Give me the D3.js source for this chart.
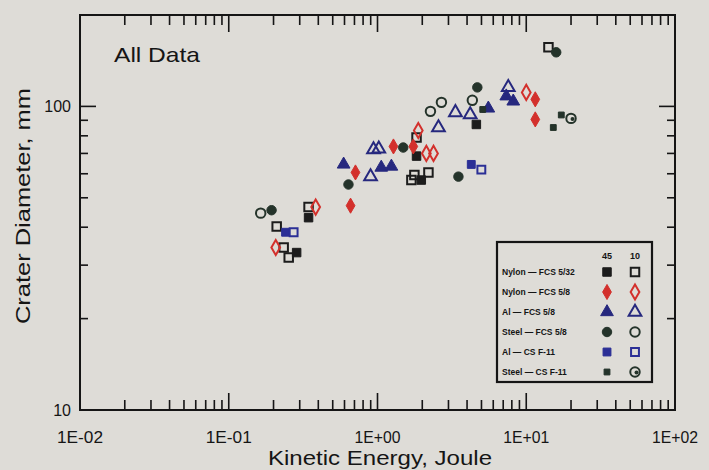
<!DOCTYPE html>
<html>
<head>
<meta charset="utf-8">
<script src="https://cdn.jsdelivr.net/npm/d3@7"></script>
<style>
  html, body { margin: 0; padding: 0; background: #dedcd7; }
  svg { display: block; }
</style>
</head>
<body>
<div id="chart"></div>
<script>
// Kinetic energy (J) vs crater diameter (mm)
const nylonFcsFilled = [[0.344, 43.0], [0.286, 33.0], [1.83, 68.6], [1.97, 57.2], [4.62, 87.2]];
const nylonFcsOpen = [[0.210, 40.2], [0.253, 31.8], [0.234, 34.3], [0.344, 46.6], [1.69, 57.2], [1.77, 59.4], [2.2, 60.6], [1.83, 79.0], [14.1, 156.6]];
const nylonRedFilled = [[0.711, 60.6], [0.659, 47.1], [1.28, 73.8], [1.74, 73.8], [11.5, 105.5], [11.5, 90.6]];
const nylonRedOpen = [[0.207, 34.3], [0.384, 46.6], [1.88, 83.3], [2.13, 70.0], [2.38, 70.0], [10.0, 111.2]];
const alFcsFilled = [[0.592, 64.4], [1.06, 62.9], [1.24, 63.4], [5.56, 98.5], [8.18, 103.9], [7.34, 108.0]];
const alFcsOpen = [[0.94, 72.1], [1.02, 72.5], [0.898, 58.7], [2.57, 85.2], [3.34, 95.5], [4.2, 94.0], [7.57, 115.5]];
const steelFcsFilled = [[0.194, 45.5], [0.638, 55.3], [1.49, 73.2], [4.69, 115.5], [15.9, 150.7], [3.5, 58.7]];
const steelFcsOpen = [[0.164, 44.5], [2.27, 96.3], [2.69, 103.1], [4.34, 104.7]];
const alCsFilled = [[0.241, 38.5], [4.27, 64.4]];
const alCsOpen = [[0.273, 38.5], [4.99, 61.9]];
const steelCsFilled = [[17.2, 93.7], [15.2, 85.2], [5.1, 97.7]];
const steelCsOpen = [[20.0, 91.3]];

const legendLabels = ["Nylon \u2014 FCS 5/32", "Nylon \u2014 FCS 5/8", "Al \u2014 FCS 5/8", "Steel \u2014 FCS 5/8", "Al \u2014 CS F-11", "Steel \u2014 CS F-11"];
const legendHeads = ["45", "10"];

const xMajor = [0.01, 0.1, 1, 10, 100];
const xTickLabels = ["1E-02", "1E-01", "1E+00", "1E+01", "1E+02"];
const yMajor = [10, 100];
const yTickLabels = ["10", "100"];

const chartW = 709, chartH = 470;
const plotLeft = 80, plotRight = 675, plotTop = 15, plotBottom = 410;
const ink = "#151515", paper = "#dedcd7";

const svg = d3.select("#chart").append("svg")
  .attr("width", chartW)
  .attr("height", chartH)
  .style("font-family", "'Liberation Sans', Arial, sans-serif");

svg.append("rect").attr("width", chartW).attr("height", chartH).attr("fill", paper);

const xScale = d3.scaleLog().domain([0.01, 100]).range([plotLeft, plotRight]);
const yScale = d3.scaleLog().domain([10, 200]).range([plotBottom, plotTop]);

// minor ticks: 2..9 in each decade
const xMinor = [];
[0.01, 0.1, 1, 10].forEach(d => { for (let k = 2; k <= 9; k++) xMinor.push(d * k); });
const yMinor = [20, 30, 40, 50, 60, 70, 80, 90];

svg.append("rect")
  .attr("x", plotLeft).attr("y", plotTop)
  .attr("width", plotRight - plotLeft).attr("height", plotBottom - plotTop)
  .attr("fill", "none").attr("stroke", ink).attr("stroke-width", 2);

svg.append("g").selectAll("text").data(xMajor).join("text")
  .attr("x", d => xScale(d)).attr("y", 443)
  .attr("text-anchor", "middle").attr("fill", ink)
  .attr("textLength", 46).attr("lengthAdjust", "spacingAndGlyphs")
  .style("font-size", "16px")
  .text((d, i) => xTickLabels[i]);
svg.append("g").selectAll("text").data(yMajor).join("text")
  .attr("x", 71).attr("y", d => yScale(d)).attr("dy", "0.35em")
  .attr("text-anchor", "end").attr("fill", ink)
  .style("font-size", "16px")
  .text((d, i) => yTickLabels[i]);

svg.append("text").attr("x", 114).attr("y", 62)
  .attr("fill", ink).style("font-size", "21px")
  .attr("textLength", 86).attr("lengthAdjust", "spacingAndGlyphs")
  .text("All Data");

svg.append("text")
  .attr("transform", `translate(30,206) rotate(-90)`)
  .attr("text-anchor", "middle").attr("fill", ink).style("font-size", "21px")
  .attr("textLength", 236).attr("lengthAdjust", "spacingAndGlyphs")
  .text("Crater Diameter, mm");
svg.append("text").attr("x", 380).attr("y", 465)
  .attr("text-anchor", "middle").attr("fill", ink).style("font-size", "21px")
  .attr("textLength", 224).attr("lengthAdjust", "spacingAndGlyphs")
  .text("Kinetic Energy, Joule");

const black = "#1c1c1c", red = "#d3302c", blue = "#26287e", green = "#24332a", blueCs = "#2b2f96";

const series = [
  { data: nylonFcsFilled, type: d3.symbolSquare, size: 72, color: black, fill: true },
  { data: nylonFcsOpen, type: d3.symbolSquare, size: 72, color: black, fill: false },
  { data: nylonRedFilled, type: d3.symbolDiamond, size: 66, color: red, fill: true },
  { data: nylonRedOpen, type: d3.symbolDiamond, size: 66, color: red, fill: false },
  { data: alFcsFilled, type: d3.symbolTriangle, size: 70, color: blue, fill: true },
  { data: alFcsOpen, type: d3.symbolTriangle, size: 70, color: blue, fill: false },
  { data: steelFcsFilled, type: d3.symbolCircle, size: 70, color: green, fill: true },
  { data: steelFcsOpen, type: d3.symbolCircle, size: 70, color: green, fill: false },
  { data: alCsFilled, type: d3.symbolSquare, size: 62, color: blueCs, fill: true },
  { data: alCsOpen, type: d3.symbolSquare, size: 62, color: blueCs, fill: false },
  { data: steelCsFilled, type: d3.symbolSquare, size: 34, color: green, fill: true },
  { data: steelCsOpen, type: d3.symbolCircle, size: 70, color: green, fill: false, dot: true }
];

function drawMark(g, s) {
  g.append("path")
    .attr("d", d3.symbol().type(s.type).size(s.size)())
    .attr("fill", s.fill ? s.color : "none")
    .attr("stroke", s.color)
    .attr("stroke-width", s.fill ? 1 : 2);
  if (s.dot) g.append("circle").attr("cx", 1.5).attr("cy", 0.5).attr("r", 2).attr("fill", s.color);
}

series.forEach(s => {
  svg.append("g").selectAll("g")
    .data(s.data)
    .join("g")
      .attr("transform", d => `translate(${xScale(d[0])},${yScale(d[1])})`)
      .each(function () { drawMark(d3.select(this), s); });
});

// legend
const lg = svg.append("g");
lg.append("rect").attr("x", 497).attr("y", 242).attr("width", 155).attr("height", 140)
  .attr("fill", paper).attr("stroke", ink).attr("stroke-width", 2.2);
legendHeads.forEach((h, i) => {
  lg.append("text").attr("x", [607, 635][i]).attr("y", 259)
    .attr("text-anchor", "middle").attr("fill", ink)
    .style("font-size", "9px").style("font-weight", "bold").text(h);
});
legendLabels.forEach((t, i) => {
  const ry = 272 + i * 20;
  lg.append("text").attr("x", 502).attr("y", ry + 3)
    .attr("fill", ink).style("font-size", "8.5px").style("font-weight", "bold").text(t);
  [series[2 * i], series[2 * i + 1]].forEach((s, j) => {
    const g = lg.append("g").attr("transform", `translate(${[607, 635][j]},${ry})`);
    drawMark(g, s);
  });
});

// inward ticks on all four sides as thin filled bars, drawn on top
const tickBars = svg.append("g").attr("fill", ink);
[[xMinor, 10], [xMajor.slice(1, -1), 17]].forEach(([vals, len]) => {
  tickBars.append("g").selectAll("rect").data(vals).join("rect")
    .attr("x", d => xScale(d) - 0.8).attr("y", plotBottom - len)
    .attr("width", 1.6).attr("height", len);
  tickBars.append("g").selectAll("rect").data(vals).join("rect")
    .attr("x", d => xScale(d) - 0.8).attr("y", plotTop)
    .attr("width", 1.6).attr("height", len);
});
[[yMinor, 8], [[100], 16]].forEach(([vals, len]) => {
  tickBars.append("g").selectAll("rect").data(vals).join("rect")
    .attr("x", plotLeft).attr("y", d => yScale(d) - 0.8)
    .attr("width", len).attr("height", 1.6);
  tickBars.append("g").selectAll("rect").data(vals).join("rect")
    .attr("x", plotRight - len).attr("y", d => yScale(d) - 0.8)
    .attr("width", len).attr("height", 1.6);
});
</script>
</body>
</html>
